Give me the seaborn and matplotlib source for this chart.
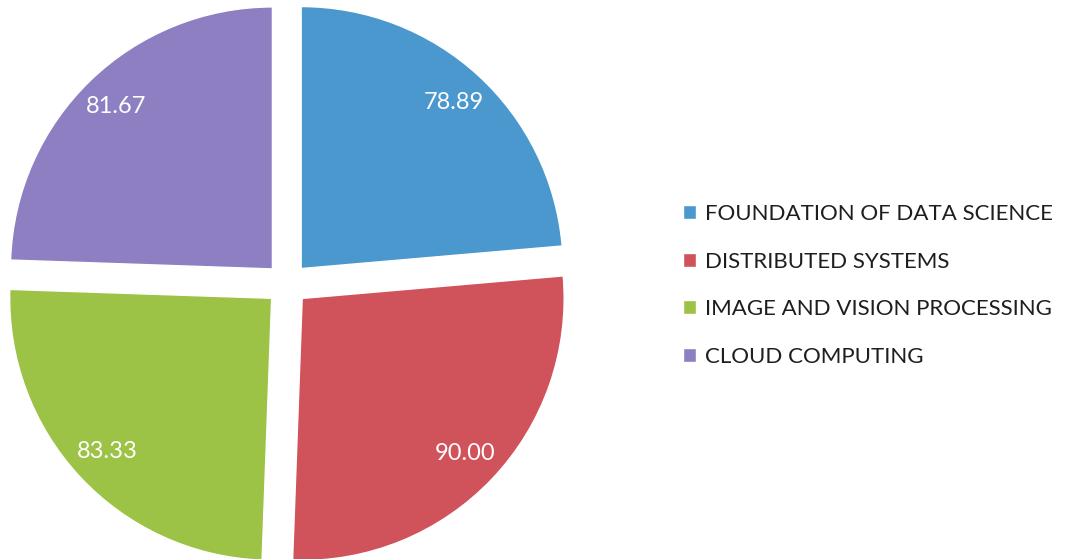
import matplotlib.pyplot as plt
import seaborn as sns
import numpy as np

# subject scores
subjects = ['FOUNDATION OF DATA SCIENCE', 'DISTRIBUTED SYSTEMS',
            'IMAGE AND VISION PROCESSING', 'CLOUD COMPUTING']
scores = [78.89, 90.00, 83.33, 81.67]
colors = ['#4b98cf', '#d0525a', '#9cc246', '#8d7fc1']

sns.set_theme(style='white')
plt.rcParams['font.family'] = ['Lato', 'DejaVu Sans']

fig = plt.figure(figsize=(10.67, 5.59), dpi=100)
ax = fig.add_axes([0, 0, 1, 1])

total = sum(scores)
wedges, texts, autotexts = ax.pie(
    scores, colors=colors, startangle=90, counterclock=False,
    explode=[0.08] * len(scores),
    autopct=lambda p: f'{p * total / 100:.2f}', pctdistance=0.86,
    textprops={'color': 'white', 'fontsize': 17})

# pie radius 1 == 262 px, centre at (287, 284) px from top-left
R = 262
ax.set_xlim(-287 / R, (1067 - 287) / R)
ax.set_ylim(-(559 - 284) / R, 284 / R)
ax.set_aspect('equal')
ax.axis('off')

leg = ax.legend(wedges, subjects, loc='upper left', bbox_to_anchor=(683 / 1067, 1 - 204 / 559),
                frameon=False, fontsize=16, handlelength=0.59, handleheight=0.59,
                handletextpad=0.4, labelspacing=1.24, borderpad=0, borderaxespad=0)
for t in leg.get_texts():
    t.set_color('#1e1e1e')

fig.savefig('out.png', dpi=100)
